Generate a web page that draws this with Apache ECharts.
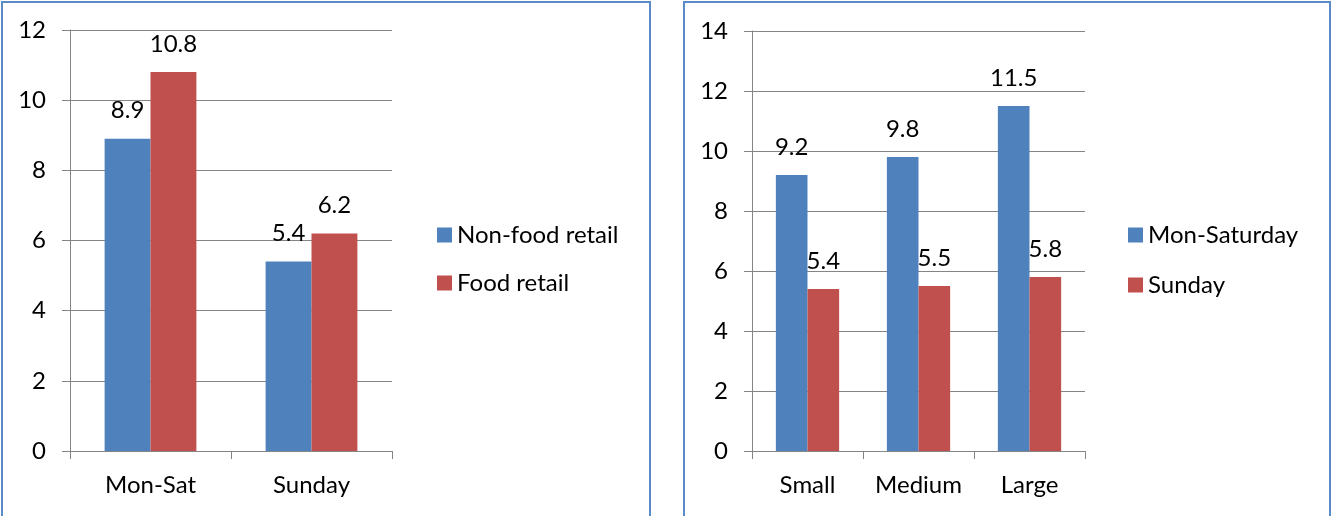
<!DOCTYPE html>
<html><head><meta charset="utf-8">
<script src="https://cdn.jsdelivr.net/npm/echarts@6/dist/echarts.min.js"></script>
<style>html,body{margin:0;padding:0;background:#fff}#c{width:1331px;height:516px}</style>
</head><body><div id="c"></div>
<script>
const leftCategories = ['Mon-Sat', 'Sunday'];
const nonFoodRetail = [8.9, 5.4];
const foodRetail = [10.8, 6.2];
const rightCategories = ['Small', 'Medium', 'Large'];
const monSaturday = [9.2, 9.8, 11.5];
const sundayValues = [5.4, 5.5, 5.8];

const FONT = 'Lato';
const FS = 24;
const GRAY = '#858585';
const BLUE = '#4f81bd';
const RED = '#c0504d';

function yAxis(gridIndex, max) {
  return {
    type: 'value', gridIndex, min: 0, max, interval: 2,
    axisLine: { show: true, lineStyle: { color: GRAY, width: 1 } },
    axisTick: { show: true, inside: false, length: 8, lineStyle: { color: GRAY } },
    axisLabel: { color: '#000', fontFamily: FONT, fontSize: FS, margin: 24 },
    splitLine: { show: true, lineStyle: { color: GRAY, width: 1 } }
  };
}
function xAxis(gridIndex, data) {
  return {
    type: 'category', gridIndex, data,
    axisLine: { show: true, lineStyle: { color: GRAY, width: 1 } },
    axisTick: { show: true, inside: false, length: 8, interval: 0, alignWithLabel: false, lineStyle: { color: GRAY } },
    axisLabel: { color: '#000', fontFamily: FONT, fontSize: FS, margin: 22, interval: 0, hideOverlap: false }
  };
}
function bar(name, data, color, xi, yi) {
  return {
    name, type: 'bar', data, xAxisIndex: xi, yAxisIndex: yi,
    barGap: '0%', barCategoryGap: '43%',
    itemStyle: { color },
    label: { show: true, position: 'top', distance: 16, color: '#000', fontFamily: FONT, fontSize: FS },
    emphasis: { disabled: true }
  };
}
const legendText = { color: '#000', fontFamily: FONT, fontSize: FS, lineHeight: 26 };

const chart = echarts.init(document.getElementById('c'), null, { renderer: 'canvas' });
chart.setOption({
  animation: false,
  backgroundColor: '#fff',
  grid: [
    { left: 70, top: 30, width: 322, height: 421 },
    { left: 752, top: 31, width: 333, height: 420 }
  ],
  xAxis: [xAxis(0, leftCategories), xAxis(1, rightCategories)],
  yAxis: [yAxis(0, 12), yAxis(1, 14)],
  legend: [
    { data: ['Non-food retail', 'Food retail'], orient: 'vertical', left: 437, top: 222,
      itemWidth: 15, itemHeight: 15, itemGap: 22, icon: 'rect', textStyle: legendText, padding: 0 },
    { data: ['Mon-Saturday', 'Sunday'], orient: 'vertical', left: 1128, top: 222,
      itemWidth: 15, itemHeight: 15, itemGap: 24, icon: 'rect', textStyle: legendText, padding: 0 }
  ],
  series: [
    bar('Non-food retail', nonFoodRetail, BLUE, 0, 0),
    bar('Food retail', foodRetail, RED, 0, 0),
    bar('Mon-Saturday', monSaturday, BLUE, 1, 1),
    bar('Sunday', sundayValues, RED, 1, 1)
  ],
  graphic: [
    { type: 'rect', shape: { x: 2, y: 2, width: 648, height: 530 }, style: { fill: 'none', stroke: '#5b8bc6', lineWidth: 2 }, silent: true },
    { type: 'rect', shape: { x: 684, y: 2, width: 646, height: 530 }, style: { fill: 'none', stroke: '#5b8bc6', lineWidth: 2 }, silent: true }
  ]
});
</script></body></html>
